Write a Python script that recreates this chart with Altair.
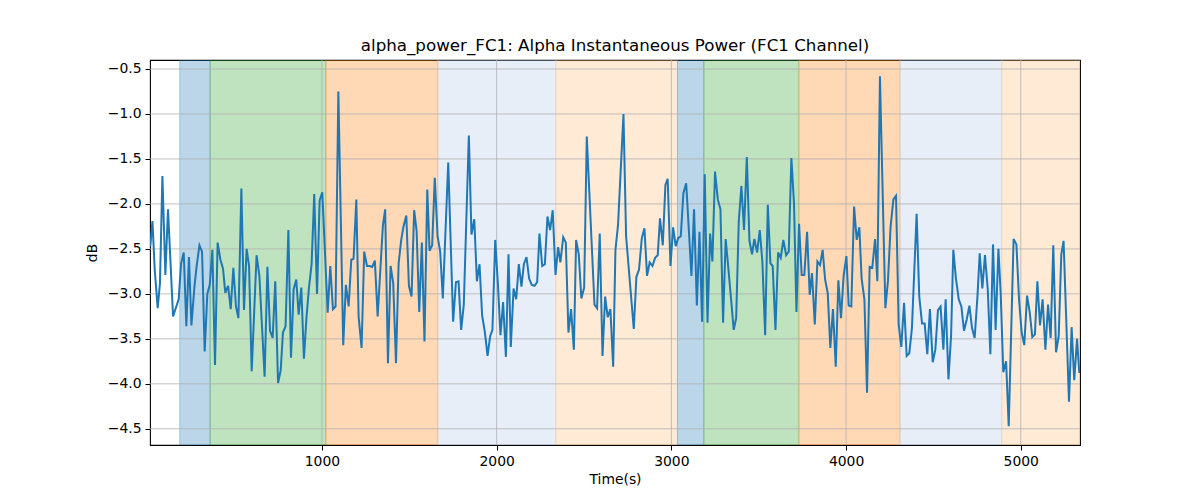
import altair as alt
import pandas as pd

# ---- data ----
time_s = [
    18, 30, 43, 60, 73, 87, 104, 119, 148, 180, 194, 209, 224, 239, 253, 270, 283, 299, 314, 329,
    344, 358, 373, 388, 403, 419, 434, 447, 463, 478, 493, 508, 522, 539, 554, 569, 583, 598, 626, 642,
    672, 688, 703, 718, 733, 749, 764,
    777, 792, 808, 823, 838, 853, 867, 882, 897, 912, 926, 941, 956, 972, 987, 1002, 1033, 1048, 1063, 1078,
    1094, 1122, 1137, 1153, 1168, 1181, 1197, 1210, 1227, 1242, 1258, 1273, 1288, 1303, 1319, 1349, 1362, 1378,
    1393, 1408, 1424, 1439, 1454, 1467, 1483, 1498, 1513,
    1528, 1542, 1557, 1572, 1587, 1603, 1616, 1631, 1646, 1662, 1677, 1692, 1723, 1751, 1767, 1782, 1797, 1812,
    1841, 1856, 1872, 1887, 1902, 1917, 1933, 1948, 1963, 1976, 1992, 2007, 2022, 2037, 2053, 2068, 2081, 2097,
    2112, 2127, 2142, 2156, 2171, 2186, 2201, 2217, 2232, 2245, 2261, 2276,
    2291, 2306, 2321, 2337, 2352, 2365, 2381, 2396, 2411, 2426, 2442, 2455, 2470, 2485, 2501, 2516, 2560, 2575,
    2590, 2606, 2621, 2636, 2651, 2667, 2680, 2695, 2726, 2741, 2785, 2800, 2815, 2831, 2846, 2861, 2876, 2892,
    2907, 2922, 2935, 2951, 2966, 2979, 2995, 3010, 3025,
    3039, 3054, 3069, 3085, 3115, 3130, 3146, 3161, 3176, 3191, 3207, 3222, 3235, 3250, 3266, 3281, 3296, 3311,
    3327, 3342, 3357, 3371, 3386, 3401, 3416, 3432, 3447, 3462, 3475, 3491, 3506, 3521, 3537, 3552, 3567, 3580,
    3596, 3611, 3626, 3641, 3657, 3672, 3687, 3702, 3716, 3731, 3746, 3761, 3777, 3792,
    3805, 3821, 3836, 3851, 3866, 3880, 3895, 3910, 3925, 3941, 3956, 3971, 3986, 4002, 4015, 4030, 4046, 4061,
    4076, 4089, 4105, 4120, 4135, 4150, 4166, 4179, 4194, 4225, 4240, 4255, 4271, 4286, 4301, 4316, 4332, 4347,
    4362, 4377, 4404, 4419, 4435, 4450, 4465, 4480, 4496, 4511, 4526, 4541, 4557,
    4570, 4586, 4601, 4614, 4629, 4645, 4660, 4675, 4690, 4706, 4721, 4736, 4752, 4765, 4780, 4795, 4811, 4826,
    4841, 4856, 4872, 4885, 4900, 4916, 4931, 4959, 4975, 4990, 5005, 5020, 5036, 5051, 5066, 5081, 5095, 5110,
    5125, 5141, 5156, 5171, 5186, 5202, 5217, 5232, 5245, 5276, 5291, 5306, 5322, 5335,
]
power_db = [
    -2.47, -2.19, -2.73, -3.16, -2.88, -1.69, -2.79, -2.06, -3.25, -3.06, -2.66, -2.54, -3.36, -2.59, -3.35, -2.93, -2.69, -2.46, -2.53, -3.64,
    -3.00, -2.90, -2.51, -3.79, -2.43, -2.62, -2.72, -2.99, -2.91, -3.17, -2.71, -3.14, -3.27, -1.83, -3.18, -2.50, -2.69, -3.86, -2.57, -2.80,
    -3.92, -2.70, -3.41, -3.49, -2.86, -3.99, -3.85,
    -3.43, -3.36, -2.29, -3.71, -2.95, -2.84, -3.23, -2.93, -3.72, -3.25, -2.93, -2.67, -1.89, -3.00, -1.96, -1.87, -3.21, -2.69, -3.17, -3.14,
    -0.75, -3.57, -2.90, -3.14, -2.62, -2.61, -1.95, -3.25, -3.60, -2.53, -2.69, -2.69, -2.70, -2.63, -3.25, -2.24, -2.06, -3.77,
    -2.69, -2.88, -3.77, -2.66, -2.40, -2.25, -2.13, -2.91, -3.03,
    -2.07, -2.30, -3.20, -2.43, -3.53, -1.84, -2.52, -2.46, -1.71, -2.36, -2.53, -3.05, -1.54, -3.31, -2.87, -2.86, -3.40, -3.12,
    -1.24, -2.34, -2.17, -2.86, -2.67, -3.24, -3.43, -3.69, -3.47, -3.40, -2.40, -2.88, -3.46, -3.09, -3.70, -2.56, -3.59, -2.94,
    -3.06, -2.67, -2.92, -2.67, -2.59, -2.83, -2.90, -2.91, -2.87, -2.33, -2.69, -2.67,
    -2.14, -2.29, -2.07, -2.79, -2.48, -2.65, -2.37, -2.43, -3.43, -3.17, -3.62, -2.40, -2.56, -3.05, -2.93, -1.25, -3.12, -3.16,
    -2.33, -3.69, -3.03, -3.26, -3.17, -3.81, -2.51, -2.23, -1.00, -2.36, -3.39, -2.81, -2.73, -2.38, -2.27, -2.80, -2.65, -2.69,
    -2.60, -2.57, -2.16, -2.46, -1.79, -1.72, -2.69, -2.26, -2.47,
    -2.38, -2.36, -1.88, -1.77, -2.80, -2.06, -3.13, -2.31, -3.31, -1.67, -3.32, -2.33, -2.64, -1.64, -1.95, -2.06, -3.32, -2.39,
    -2.73, -3.06, -3.40, -3.27, -2.19, -1.80, -2.29, -1.48, -2.41, -2.56, -2.39, -2.54, -2.29, -2.64, -3.46, -2.01, -2.66, -2.69,
    -3.40, -2.54, -2.60, -2.40, -2.57, -2.53, -1.49, -1.99, -3.20, -2.22, -2.79, -2.79, -2.31, -3.01,
    -2.77, -3.34, -2.64, -2.68, -2.51, -2.84, -2.99, -3.60, -3.17, -3.81, -2.85, -3.27, -2.80, -2.58, -3.13, -3.14, -2.03, -2.40,
    -2.26, -2.83, -3.06, -4.10, -2.70, -2.71, -2.39, -2.86, -0.58, -3.16, -2.85, -2.25, -1.95, -1.91, -3.34, -3.59, -3.10, -3.69,
    -3.66, -3.38, -2.11, -3.03, -3.33, -3.33, -3.67, -3.17, -3.76, -3.62, -3.18, -3.14, -3.62,
    -3.06, -3.95, -3.47, -2.51, -2.83, -3.06, -3.14, -3.41, -3.29, -3.13, -3.38, -3.49, -3.03, -2.55, -2.94, -2.57, -2.95, -3.67,
    -2.45, -3.40, -2.50, -2.99, -3.87, -3.75, -4.47, -2.39, -2.45, -3.06, -3.43, -3.57, -3.02, -3.20, -3.48, -3.45, -2.86, -3.35,
    -3.06, -3.62, -3.12, -3.49, -2.46, -3.65, -3.47, -2.56, -2.41, -4.20, -3.37, -3.96, -3.50, -3.88,
]

band_start = [186, 360, 1023, 1664, 2339, 3035, 3186, 3730, 4309, 4891]
band_end = [360, 1023, 1664, 2339, 3035, 3186, 3730, 4309, 4891, 5339]
band_color = ["#1f77b4", "#2ca02c", "#ff7f0e", "#aec7e8", "#ffbb78",
              "#1f77b4", "#2ca02c", "#ff7f0e", "#aec7e8", "#ffbb78"]

x_ticks = [1000, 2000, 3000, 4000, 5000]
y_ticks = [-4.5, -4.0, -3.5, -3.0, -2.5, -2.0, -1.5, -1.0, -0.5]
x_domain = [16, 5339]
y_domain = [-4.68, -0.40]

FONT = "DejaVu Sans"

line_df = pd.DataFrame({"t": time_s, "v": power_db})
band_df = pd.DataFrame({"t": band_start, "t2": band_end, "c": band_color})
xg_df = pd.DataFrame({"t": x_ticks})
yg_df = pd.DataFrame({"v": y_ticks})

x_scale = alt.Scale(domain=x_domain, nice=False, zero=False)
y_scale = alt.Scale(domain=y_domain, nice=False, zero=False)
x_axis = alt.Axis(values=x_ticks, format="d", grid=False, title="Time(s)",
                  labelFontSize=13.9, titleFontSize=13.9, labelFont=FONT, titleFont=FONT,
                  tickSize=5, tickColor="black", labelColor="black", titleColor="black",
                  labelPadding=4, titlePadding=5, domain=False, titleFontWeight="normal")
y_axis = alt.Axis(values=y_ticks, grid=False, title="dB",
                  labelExpr="replace(format(datum.value, '.1f'), '-', '\u2212')",
                  labelFontSize=13.9, titleFontSize=13.9, labelFont=FONT, titleFont=FONT,
                  tickSize=5, tickColor="black", labelColor="black", titleColor="black",
                  labelPadding=4, titlePadding=8, domain=False, titleFontWeight="normal")

bands = alt.Chart(band_df).mark_rect(fillOpacity=0.3, strokeOpacity=0.3, strokeWidth=1, clip=True).encode(
    x=alt.X("t:Q", scale=x_scale, axis=x_axis),
    x2="t2:Q",
    fill=alt.Color("c:N", scale=None),
    stroke=alt.Color("c:N", scale=None),
)

xgrid = alt.Chart(xg_df).mark_rule(color="#b0b0b0", strokeWidth=0.8).encode(
    x=alt.X("t:Q", scale=x_scale, axis=x_axis)
)
ygrid = alt.Chart(yg_df).mark_rule(color="#b0b0b0", strokeWidth=0.8).encode(
    y=alt.Y("v:Q", scale=y_scale, axis=y_axis)
)

line = alt.Chart(line_df).mark_line(color="#1f77b4", strokeWidth=2, clip=True).encode(
    x=alt.X("t:Q", scale=x_scale, axis=x_axis),
    y=alt.Y("v:Q", scale=y_scale, axis=y_axis),
)

chart = alt.layer(bands, xgrid, ygrid, line).properties(
    width=930,
    height=385,
    title=alt.TitleParams(
        "alpha_power_FC1: Alpha Instantaneous Power (FC1 Channel)",
        font=FONT, fontSize=16.7, fontWeight="normal", color="black",
        anchor="middle", offset=5,
    ),
    autosize=alt.AutoSizeParams(type="none"),
    padding={"left": 142, "top": 52, "right": 112, "bottom": 47},
).configure(
    background="white",
    view=alt.ViewConfig(stroke="black", strokeWidth=1.1),
)

chart.save("out.html", embed_options={"renderer": "svg", "actions": False})
